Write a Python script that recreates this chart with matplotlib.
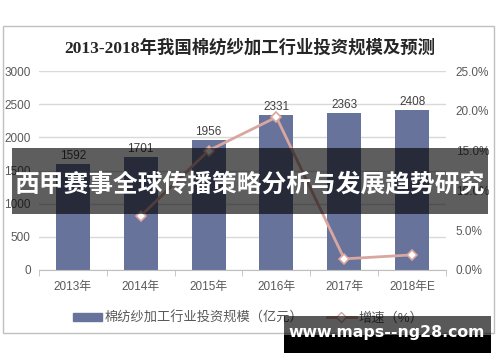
import matplotlib
matplotlib.use("Agg")
import matplotlib.pyplot as plt
from matplotlib.patches import Rectangle
from matplotlib.lines import Line2D
from matplotlib.ticker import FuncFormatter

plt.rcParams["font.family"] = ["Liberation Sans", "Noto Sans CJK SC", "DejaVu Sans"]

YEARS = ["2013年", "2014年", "2015年", "2016年", "2017年", "2018年E"]
INVEST = [1592, 1701, 1956, 2331, 2363, 2408]
GROWTH_YEARS = ["2014年", "2015年", "2016年", "2017年", "2018年E"]
GROWTH = [6.8, 15.0, 19.2, 1.4, 1.9]

TITLE = "2013-2018年我国棉纺纱加工行业投资规模及预测"
BAR_LABEL = "棉纺纱加工行业投资规模（亿元）"
LINE_LABEL = "增速（%）"
BANNER = "西甲赛事全球传播策略分析与发展趋势研究"
WATERMARK = "www.maps--ng28.com"

W, H = 500, 362
BAR_COLOR = "#67739b"
LINE_COLOR = "#d9a6a0"
TEXT_COLOR = "#404040"
TICK_COLOR = "#595959"


def px(x0, y0, x1, y1):
    # pixel box (top-left origin) -> figure fraction rect
    return [x0 / W, 1 - y1 / H, (x1 - x0) / W, (y1 - y0) / H]


fig = plt.figure(figsize=(W / 100, H / 100), dpi=100)
fig.patch.set_facecolor("white")

# outer chart border
fig.add_artist(Rectangle((3 / W, 1 - 333 / H), 491 / W, 307 / H, transform=fig.transFigure,
                         fill=False, edgecolor="#c0c0c0", linewidth=1.0))

fig.text(250 / W, 1 - 48 / H, TITLE, ha="center", va="center", fontsize=12.5,
         fontweight="bold", color="#262626", family=["Liberation Serif", "Noto Sans CJK SC"])

ax = fig.add_axes(px(39, 71, 446, 270))
xs = list(range(len(YEARS)))
ax.bar(xs, INVEST, width=0.5, color=BAR_COLOR, zorder=2)
for x, v in zip(xs, INVEST):
    ax.text(x, v + 40, str(v), ha="center", va="bottom", fontsize=8.5, color=TEXT_COLOR)
ax.set_xlim(-0.5, len(YEARS) - 0.5)
ax.set_ylim(0, 3000)
ax.set_yticks(range(0, 3001, 500))
ax.yaxis.grid(True, color="#d9d9d9", linewidth=1.0, zorder=0)
ax.set_axisbelow(True)
for s in ["left", "right", "top"]:
    ax.spines[s].set_visible(False)
ax.spines["bottom"].set_color("#bfbfbf")
ax.set_xticks(xs)
ax.set_xticklabels(YEARS, fontsize=8.5, color=TICK_COLOR)
ax.set_xticks([i - 0.5 for i in range(len(YEARS) + 1)], minor=True)
ax.tick_params(axis="x", which="major", length=0, pad=8)
ax.tick_params(axis="x", which="minor", length=4, color="#bfbfbf")
ax.tick_params(axis="y", length=0, labelsize=8.5, labelcolor=TICK_COLOR, pad=6)

ax2 = ax.twinx()
gx = [YEARS.index(y) for y in GROWTH_YEARS]
ax2.plot(gx, GROWTH, color=LINE_COLOR, linewidth=2, marker="D", markersize=5,
         markerfacecolor="white", markeredgecolor=LINE_COLOR, markeredgewidth=1.2, zorder=3)
ax2.set_ylim(0, 25)
ax2.set_yticks([0, 5, 10, 15, 20, 25])
ax2.yaxis.set_major_formatter(FuncFormatter(lambda v, p: f"{v:.1f}%"))
ax2.tick_params(axis="y", length=0, labelsize=8.5, labelcolor=TICK_COLOR, pad=7)
for s in ["left", "right", "top", "bottom"]:
    ax2.spines[s].set_visible(False)

# legend
handles = [Rectangle((0, 0), 1, 1, color=BAR_COLOR),
           Line2D([], [], color=LINE_COLOR, linewidth=2, marker="D", markersize=5,
                  markerfacecolor="white", markeredgecolor=LINE_COLOR)]
fig.legend(handles, [BAR_LABEL, LINE_LABEL], loc="center", bbox_to_anchor=(248 / W, 1 - 318 / H),
           ncol=2, frameon=False, fontsize=9.5, handlelength=2.2, handleheight=0.5,
           columnspacing=1.8, handletextpad=0.2, labelcolor=TICK_COLOR)

# banner overlay
fig.add_artist(Rectangle((12 / W, 1 - 214 / H), 476 / W, 66 / H, transform=fig.transFigure,
                         facecolor="black", alpha=0.63, edgecolor="none", zorder=10))
fig.text(250 / W, 1 - 184 / H, BANNER, ha="center", va="center", fontsize=17.8,
         fontweight="bold", color="white", zorder=11, family=["Noto Sans CJK SC"])

# watermark overlay
fig.add_artist(Rectangle((284 / W, 1 - 335 / H), 207 / W, 19 / H, transform=fig.transFigure,
                         facecolor="black", alpha=0.65, edgecolor="none", zorder=10))
fig.add_artist(Rectangle((284 / W, 1 - 353 / H), 207 / W, 18 / H, transform=fig.transFigure,
                         facecolor="black", edgecolor="none", zorder=10))
fig.text(387 / W, 1 - 333 / H, WATERMARK, ha="center", va="center", fontsize=11.3,
         fontweight="bold", color="white", zorder=11, family="DejaVu Sans")

fig.savefig("out.png", dpi=100)
